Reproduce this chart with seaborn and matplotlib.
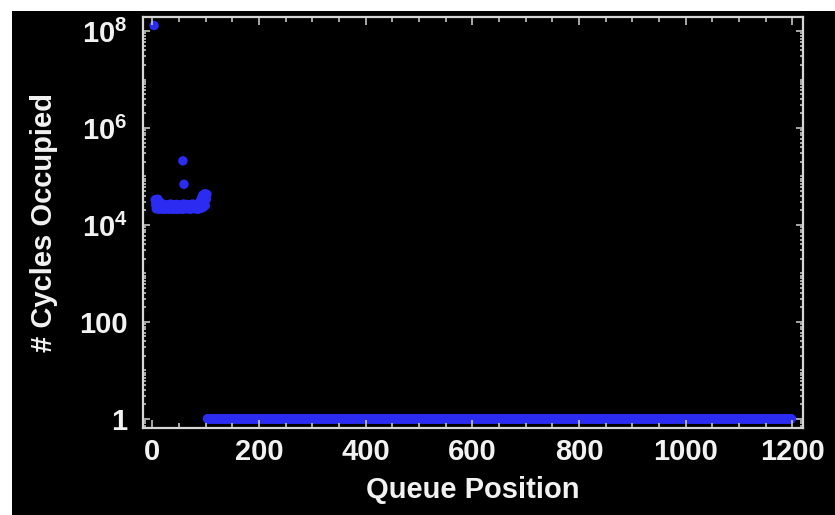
import numpy as np
import pandas as pd
import matplotlib
matplotlib.use("Agg")
import matplotlib.pyplot as plt
import matplotlib.ticker as mticker
from matplotlib.patches import Rectangle
import seaborn as sns

# Queue occupancy: first entry, the busy head of the queue, two spikes, and the idle tail
head_pos = [3]
head_cycles = [1.3e8]

busy_pos = list(range(5, 103))
busy_cycles = [
    33000, 26000, 21500, 30000, 23000, 34000, 22000, 27000, 21000, 25000, 29000, 22500,
    23000, 21500, 25000, 22000, 26500, 21000, 24000, 22500, 25500, 21500, 23500, 26000,
    22000, 24500, 21000, 25000, 23000, 27000, 21500, 24000, 22500, 26000, 21000, 23500,
    25500, 22000, 24000, 21500, 26500, 23000, 21000, 25000, 22500, 24500, 21500, 26000,
    23000, 22000, 25500, 21000, 24000, 27000, 22500, 23500, 21500, 25000, 22000, 26500,
    21500, 24000, 23000, 25500, 22000, 26000, 21000, 24500, 23000, 22000, 27000, 23500,
    22500, 25000, 21500, 24000, 26500, 22000, 23500, 25500, 21000, 24500, 26000, 23000,
    24000, 32000, 22000, 36000, 27000, 41000, 23000, 38000, 30000, 44000, 25000, 40000,
    34000, 43000,
]

spike_pos = [57, 59]
spike_cycles = [210000, 69000]

idle_first, idle_last, idle_cycles = 103, 1198, 1

idle_pos = np.arange(idle_first, idle_last + 1)
df = pd.DataFrame({
    "Queue Position": np.concatenate([head_pos, busy_pos, spike_pos, idle_pos]),
    "Cycles": np.concatenate([head_cycles, busy_cycles, spike_cycles,
                              np.full(idle_pos.size, idle_cycles)]).astype(float),
})

plt.rcParams["font.family"] = ["Liberation Sans", "DejaVu Sans"]
plt.rcParams["font.weight"] = "bold"
plt.rcParams["axes.labelweight"] = "bold"
plt.rcParams["mathtext.fontset"] = "custom"
plt.rcParams["mathtext.rm"] = "Liberation Sans:bold"
plt.rcParams["mathtext.it"] = "Liberation Sans:bold"
plt.rcParams["mathtext.bf"] = "Liberation Sans:bold"
plt.rcParams["mathtext.default"] = "bf"

W, H = 835, 515
fig = plt.figure(figsize=(W / 100, H / 100), dpi=100, facecolor="black")
# white margins along the left and top edges
fig.patches.append(Rectangle((0, 0), 12 / W, 1, transform=fig.transFigure,
                             facecolor="white", edgecolor="none", zorder=-1))
fig.patches.append(Rectangle((0, 1 - 11 / H), 1, 11 / H, transform=fig.transFigure,
                             facecolor="white", edgecolor="none", zorder=-1))

ax = fig.add_axes([143 / W, 1 - 428 / H, (803 - 143) / W, (428 - 17) / H])
ax.set_facecolor("black")

blue = "#2b2bf2"
sns.scatterplot(data=df, x="Queue Position", y="Cycles", ax=ax, color=blue,
                s=46, linewidth=0, edgecolor="none", legend=False)

ax.set_yscale("log")
ax.set_xlim(-17.8, 1219.7)
ax.set_ylim(10 ** -0.19, 10 ** 8.29)

text_col = "#f2f2f2"
frame_col = "#d6d6d6"
fs = 21

ax.xaxis.set_major_locator(mticker.MultipleLocator(200))
ax.xaxis.set_minor_locator(mticker.MultipleLocator(50))
ax.yaxis.set_major_locator(mticker.FixedLocator([1, 1e2, 1e4, 1e6, 1e8]))
ax.yaxis.set_minor_locator(mticker.LogLocator(base=10, subs=np.arange(1, 10), numticks=40))

ylabels = {1: "1", 100: "100", 1e4: r"$10^{4}$", 1e6: r"$10^{6}$", 1e8: r"$10^{8}$"}
ax.yaxis.set_major_formatter(mticker.FuncFormatter(lambda v, p: ylabels.get(v, "")))
ax.yaxis.set_minor_formatter(mticker.NullFormatter())

ax.tick_params(axis="both", which="both", direction="in", colors=frame_col,
               labelcolor=text_col, labelsize=fs, top=True, right=True, width=1.1)
ax.tick_params(axis="x", which="major", length=6, pad=7)
ax.tick_params(axis="x", which="minor", length=3.5)
ax.tick_params(axis="y", which="major", length=5, pad=11)
ax.tick_params(axis="y", which="minor", length=2.5)

for sp in ax.spines.values():
    sp.set_color(frame_col)
    sp.set_linewidth(1.6)

ax.set_xlabel("Queue Position", fontsize=fs, color=text_col, va="center",
              fontweight="bold")
ax.set_ylabel("# Cycles Occupied", fontsize=fs, color=text_col, va="center",
              fontweight="bold")
ax.xaxis.set_label_coords(0.5, (428 - 490) / 411)
ax.yaxis.set_label_coords((44 - 143) / 660, 0.5)

fig.savefig("out.png", dpi=100, facecolor="black")
